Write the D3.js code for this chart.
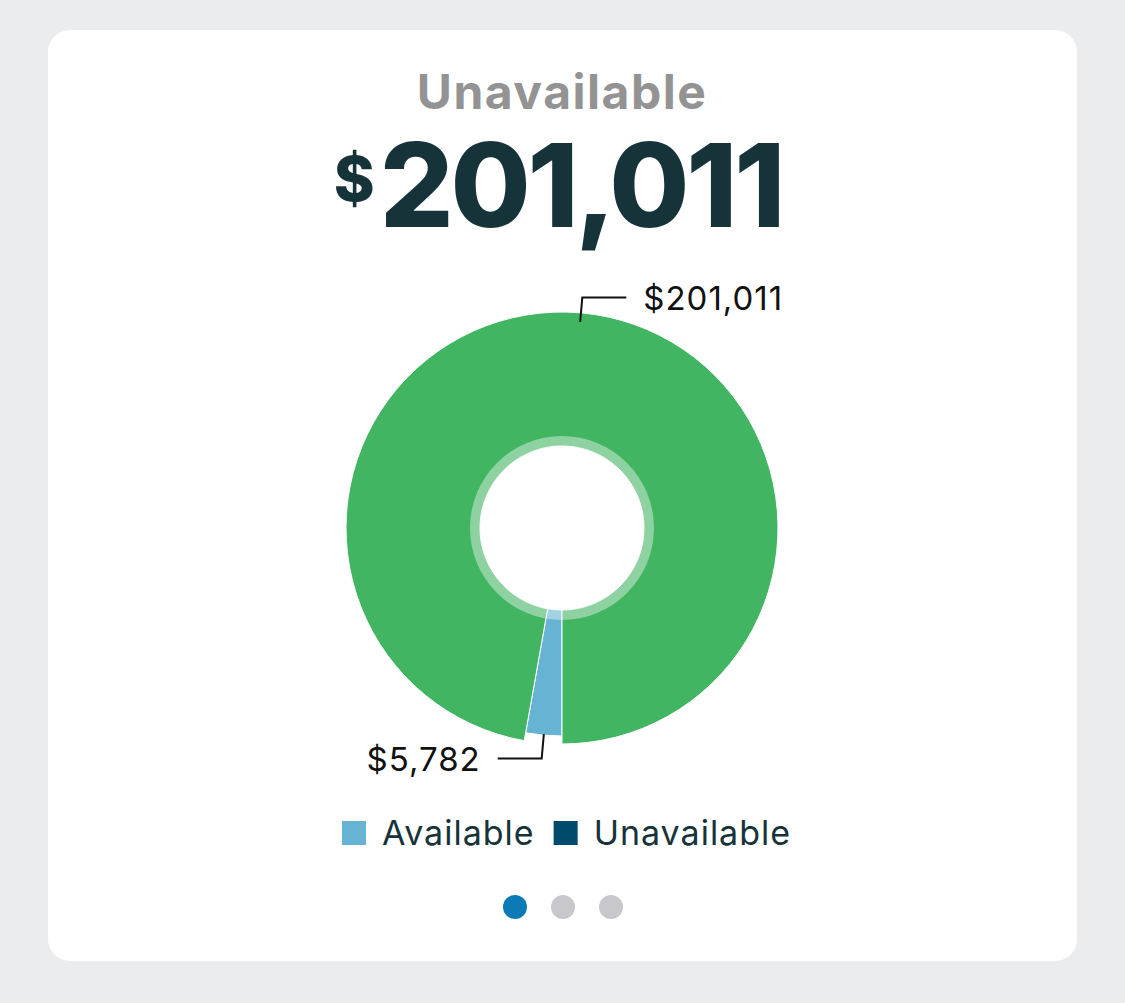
<!DOCTYPE html>
<html>
<head>
<meta charset="utf-8">
<script src="https://cdn.jsdelivr.net/npm/d3@7/dist/d3.min.js"></script>
<style>
  html, body { margin: 0; padding: 0; background: #ebeced; }
  svg { display: block; }
  text { font-family: Inter, Lato, sans-serif; }
</style>
</head>
<body>
<svg id="chart" width="1125" height="1003"></svg>
<script>
// ---- data ----
const categories = ["Available", "Unavailable"];
const values = [5782, 201011];
const sliceColors = ["#67b3d4", "#41b562"];
const legendColors = ["#67b3d4", "#004b6b"];
const labels = ["$5,782", "$201,011"];
const titleText = "Unavailable";
const headlineValue = "201,011";
const pageCount = 3;
const activePage = 0;

const W = 1125, H = 1003;
const svg = d3.select("#chart");

svg.append("rect").attr("width", W).attr("height", H).attr("fill", "#ebeced");
svg.append("rect").attr("x", 48).attr("y", 30).attr("width", 1029).attr("height", 931)
  .attr("rx", 22).attr("fill", "#ffffff");

const cx = 562, cy = 528;

svg.append("text").attr("x", cx).attr("y", 109).attr("text-anchor", "middle")
  .attr("font-size", 48).attr("font-weight", 700).attr("letter-spacing", 1.5)
  .attr("fill", "#939393")
  .text(titleText);

const head = svg.append("text").attr("x", 558).attr("y", 227).attr("text-anchor", "middle")
  .attr("fill", "#17333a").attr("font-weight", 800);
head.append("tspan").attr("font-size", 62).attr("dy", -26).text("$");
head.append("tspan").attr("font-size", 116).attr("dy", 26).attr("dx", 5)
  .attr("letter-spacing", -3.3).text(headlineValue);

const pie = d3.pie().sort(null).value(d => d)
  .startAngle(Math.PI).endAngle(3 * Math.PI);
const arcs = pie(values);
const inner = 82;
const outerBase = 208;
const outerActive = 216;
const activeIndex = 1;

const g = svg.append("g").attr("transform", `translate(${cx},${cy})`);
g.selectAll("path.slice").data(arcs).join("path")
  .attr("class", "slice")
  .attr("d", (d, i) => d3.arc().innerRadius(inner)
    .outerRadius(i === activeIndex ? outerActive : outerBase)(d))
  .attr("fill", (d, i) => sliceColors[i])
  .attr("stroke", "#ffffff").attr("stroke-width", 1);

g.append("path")
  .attr("d", d3.arc().innerRadius(inner).outerRadius(92).startAngle(0).endAngle(2 * Math.PI)())
  .attr("fill", "#ffffff").attr("fill-opacity", 0.4);

const lr0 = 207, lr1 = 231.5, hLen = 44, gap = 17;
arcs.forEach((d, i) => {
  const a = (d.startAngle + d.endAngle) / 2;
  const x0 = Math.sin(a) * lr0, y0 = -Math.cos(a) * lr0;
  const x1 = Math.sin(a) * lr1, y1 = -Math.cos(a) * lr1;
  const dir = (Math.cos(a) < 0) ? -1 : 1;
  const x2 = x1 + dir * hLen;
  g.append("path")
    .attr("d", `M${x0},${y0}L${x1},${y1}L${x2},${y1}`)
    .attr("fill", "none").attr("stroke", "#111").attr("stroke-width", 2);
  g.append("text")
    .attr("x", x2 + dir * gap).attr("y", y1 + 12.5)
    .attr("text-anchor", dir < 0 ? "end" : "start")
    .attr("font-size", 33).attr("letter-spacing", 1).attr("fill", "#111")
    .text(labels[i]);
});

const legend = svg.append("g");
let lx = 342;
const ly = 821;
categories.forEach((c, i) => {
  legend.append("rect").attr("x", lx).attr("y", ly).attr("width", 24).attr("height", 24)
    .attr("fill", legendColors[i]);
  const t = legend.append("text").attr("x", lx + 40).attr("y", ly + 24)
    .attr("font-size", 34).attr("letter-spacing", 1).attr("fill", "#17333a").text(c);
  const w = t.node().getComputedTextLength();
  lx = lx + 40 + w + 19;
});

const dotScale = d3.scalePoint().domain(d3.range(pageCount)).range([515, 611]);
svg.append("g").selectAll("circle").data(d3.range(pageCount)).join("circle")
  .attr("cx", d => dotScale(d)).attr("cy", 907).attr("r", 12)
  .attr("fill", d => d === activePage ? "#0a7bb5" : "#c8c8cc");
</script>
</body>
</html>
